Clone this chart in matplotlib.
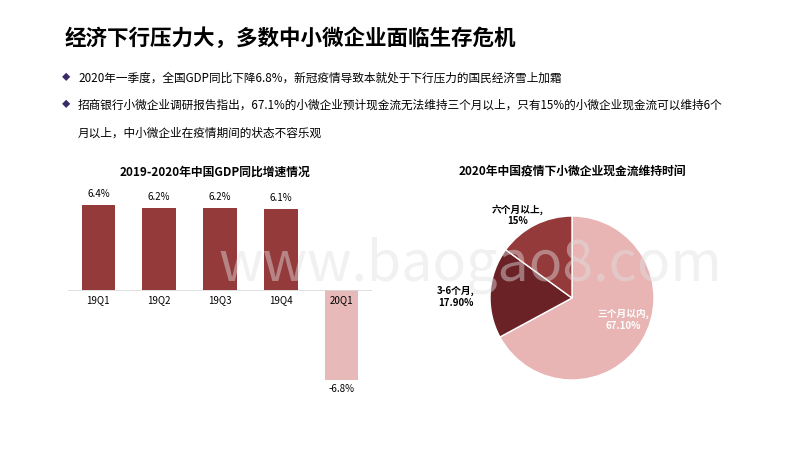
import matplotlib
matplotlib.use("Agg")
import matplotlib.pyplot as plt

plt.rcParams['font.family'] = ['Noto Sans CJK SC', 'DejaVu Sans']

quarters = ["19Q1", "19Q2", "19Q3", "19Q4", "20Q1"]
gdp = [6.4, 6.2, 6.2, 6.1, -6.8]
pie_labels = ["三个月以内,\n67.10%", "3-6个月,\n17.90%", "六个月以上,\n15%"]
pie_vals = [67.1, 17.9, 15.0]

fig = plt.figure(figsize=(8, 4.5), dpi=100)
W, H = 800, 450
def fx(x): return x / W
def fy(y): return 1 - y / H

fig.text(fx(65), fy(38), "经济下行压力大，多数中小微企业面临生存危机", fontsize=15.5, fontweight='bold', va='center')
bul = "#3a2a6a"
fig.text(fx(62), fy(78), "◆", fontsize=6, color=bul, va='center')
fig.text(fx(78), fy(78), "2020年一季度，全国GDP同比下降6.8%，新冠疫情导致本就处于下行压力的国民经济雪上加霜", fontsize=8.4, va='center')
fig.text(fx(62), fy(105), "◆", fontsize=6, color=bul, va='center')
fig.text(fx(78), fy(105), "招商银行小微企业调研报告指出，67.1%的小微企业预计现金流无法维持三个月以上，只有15%的小微企业现金流可以维持6个", fontsize=8.4, va='center')
fig.text(fx(78), fy(133), "月以上，中小微企业在疫情期间的状态不容乐观", fontsize=8.4, va='center')

fig.text(fx(215), fy(172), "2019-2020年中国GDP同比增速情况", fontsize=8.5, fontweight='bold', ha='center', va='center')
fig.text(fx(572), fy(172), "2020年中国疫情下小微企业现金流维持时间", fontsize=8.5, fontweight='bold', ha='center', va='center')

ax = fig.add_axes([fx(68), fy(400), fx(372-68), (400-185)/H])
cols = ["#943a3a"]*4 + ["#e8b9b9"]
ax.bar(range(5), gdp, width=0.55, color=cols)
ax.set_ylim(-(400-290)/85*6.4, (290-185)/85*6.4)
ax.set_xlim(-0.5, 4.5)
ax.axhline(0, color="#d9d9d9", lw=0.6)
for i, v in enumerate(gdp):
    if v > 0:
        ax.text(i, v + 0.45, f"{v}%", ha='center', va='bottom', fontsize=7)
    else:
        ax.text(i, v - 0.3, f"{v}%", ha='center', va='top', fontsize=7)
    ax.text(i, -0.35, quarters[i], ha='center', va='top', fontsize=7)
ax.axis('off')

r = 82
axp = fig.add_axes([fx(572-r), fy(298+r), 2*r/W, 2*r/H])
axp.pie(pie_vals, colors=["#e8b4b4", "#6b2227", "#943a3a"], startangle=90, counterclock=False,
        wedgeprops=dict(edgecolor='white', linewidth=1))
axp.set_aspect('auto')
axp.set_xlim(-1, 1); axp.set_ylim(-1, 1)
fig.text(fx(623), fy(320), pie_labels[0], fontsize=7, color='white', ha='center', va='center', fontweight='bold')
fig.text(fx(456), fy(297), pie_labels[1], fontsize=7, ha='center', va='center', fontweight='bold')
fig.text(fx(518), fy(215), pie_labels[2], fontsize=7, ha='center', va='center', fontweight='bold')

fig.text(fx(470), fy(265), "www.baogao8.com", fontsize=40, color='#e0e0e0', alpha=0.45, ha='center', va='center')

fig.savefig("out.png", dpi=100)
